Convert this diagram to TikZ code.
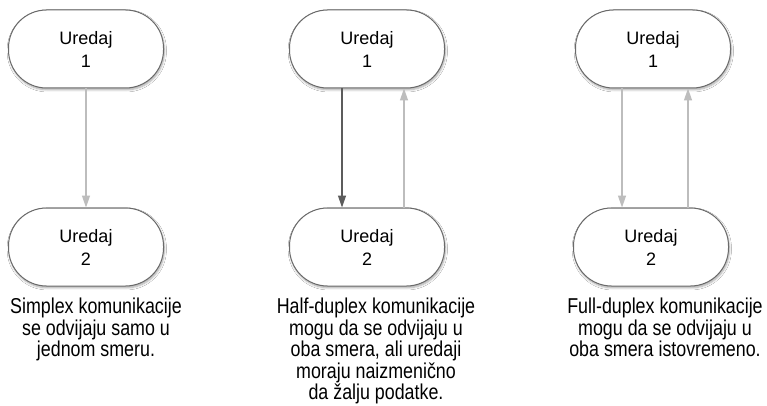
\documentclass[tikz,border=0pt]{standalone}
\usepackage{fontspec}
\setmainfont{Liberation Sans}
\newfontfamily\narrowfont[FakeStretch=0.83]{Liberation Sans}
\usetikzlibrary{arrows.meta,shadows.blur}
\definecolor{boxline}{HTML}{6A6A6A}
\definecolor{lightarrow}{HTML}{BDBDBD}
\definecolor{darkarrow}{HTML}{5C5C5C}
\tikzset{
  device/.style={draw=boxline, line width=1pt, fill=white,
    rounded corners=38pt, minimum width=155pt, minimum height=78pt,
    align=center, font=\fontsize{18}{23}\selectfont,
    blur shadow={shadow xshift=0.8pt, shadow yshift=-1.8pt,
      shadow blur steps=6, shadow opacity=35}},
  caption/.style={anchor=north, align=center, inner sep=0pt,
    font=\narrowfont\fontsize{21.5}{21.5}\selectfont},
  lightlink/.style={draw=lightarrow, line width=1.3pt,
    -{Triangle[length=12pt,width=8pt,fill=lightarrow]}},
  darklink/.style={draw=darkarrow, line width=1.3pt,
    -{Triangle[length=12pt,width=8pt,fill=darkarrow]}},
}
\begin{document}
\begin{tikzpicture}[x=1pt,y=-1pt]
  \useasboundingbox[fill=white] (0,0) rectangle (767,406);

  % simplex
  \node[device] (s1) at (86,49) {Uredaj\\1};
  \node[device] (s2) at (86,247) {Uredaj\\2};
  \draw[lightlink] (s1.south) -- (s2.north);
  \node[caption] (st) at (96,298) {Simplex komunikacije\\se odvijaju samo u\\jednom smeru.};

  % half-duplex
  \node[device] (h1) at (367,49) {Uredaj\\1};
  \node[device] (h2) at (367,247) {Uredaj\\2};
  \draw[darklink] ([xshift=-25pt]h1.south) -- ([xshift=-25pt]h2.north);
  \draw[lightlink] ([xshift=37pt]h2.north) -- ([xshift=37pt]h1.south);
  \node[caption] (ht) at (376,298) {Half-duplex komunikacije\\mogu da se odvijaju u\\oba smera, ali uredaji\\moraju naizmenično\\da žalju podatke.};

  % full-duplex
  \node[device] (f1) at (653,49) {Uredaj\\1};
  \node[device] (f2) at (651,247) {Uredaj\\2};
  \draw[lightlink] ([xshift=-31pt]f1.south) -- ([xshift=-29pt]f2.north);
  \draw[lightlink] ([xshift=37pt]f2.north) -- ([xshift=35pt]f1.south);
  \node[caption] (ft) at (665,298) {Full-duplex komunikacije\\mogu da se odvijaju u\\oba smera istovremeno.};
\end{tikzpicture}
\end{document}
